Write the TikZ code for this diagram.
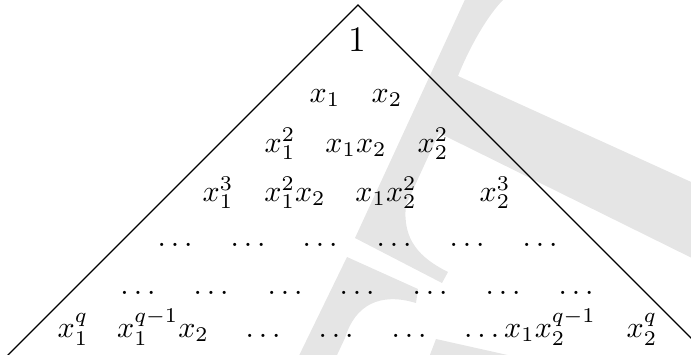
\documentclass[tikz,border=0pt]{standalone}
\definecolor{wm}{HTML}{E5E5E5}
\begin{document}
\begin{tikzpicture}[x=0.33333pt,y=-0.33333pt,
  term/.style={anchor=base,inner sep=0pt,font=\fontsize{10}{12}\selectfont},
  edge/.style={line width=0.4pt,black}]
\useasboundingbox (0,0) rectangle (691,354);
\begin{scope}
\clip (0,0) rectangle (691,354);
% watermark shapes
\fill[wm] (474,-20) -- (515,-12) -- (503,0) .. controls (488,15) and (470,46) .. (458,76)
  -- (700,186) -- (700,262) -- (439,133) -- (406,205)
  .. controls (402,240) and (420,258) .. (448,272) -- (442,283) -- (355,238) -- cycle;
\fill[wm] (347,257) -- (418,289) -- (416,303) .. controls (380,292) and (355,305) .. (345,338)
  -- (330,370) -- (292,370) -- cycle;
\fill[wm] (436,339) -- (530,360) -- (428,360) -- cycle;
% triangle
\coordinate (apex) at (358,5);
\coordinate (bl) at (-42,405);
\coordinate (br) at (758,405);
\draw[edge] (bl) -- (apex) -- (br);
\end{scope}
% row 1
\node[term,font=\fontsize{11.5}{14}\selectfont] (one) at (357,51.5) {$1$};
% row 2
\node[term] (a1) at (325,102) {$x_1$};
\node[term] (a2) at (387,102) {$x_2$};
% row 3
\node[term] (b1) at (280,152) {$x_1^2$};
\node[term] (b2) at (356,152) {$x_1x_2$};
\node[term] (b3) at (433,152) {$x_2^2$};
% row 4
\node[term] (c1) at (218,201) {$x_1^3$};
\node[term] (c2) at (295,201) {$x_1^2x_2$};
\node[term] (c3) at (386,201) {$x_1x_2^2$};
\node[term] (c4) at (495,201) {$x_2^3$};
% row 5
\node[term] (d1) at (175,246) {$\ldots$};
\node[term] (d2) at (248,246) {$\ldots$};
\node[term] (d3) at (320,246) {$\ldots$};
\node[term] (d4) at (394,246) {$\ldots$};
\node[term] (d5) at (467,246) {$\ldots$};
\node[term] (d6) at (540,246) {$\ldots$};
% row 6
\node[term] (e1) at (138,294) {$\ldots$};
\node[term] (e2) at (211,294) {$\ldots$};
\node[term] (e3) at (285,294) {$\ldots$};
\node[term] (e4) at (357,294) {$\ldots$};
\node[term] (e5) at (430,294) {$\ldots$};
\node[term] (e6) at (503,294) {$\ldots$};
\node[term] (e7) at (576,294) {$\ldots$};
% row 7
\node[term] (f1) at (73,337) {$x_1^q$};
\node[term] (f2) at (163,337) {$x_1^{q-1}x_2$};
\node[term] (f3) at (263,337) {$\ldots$};
\node[term] (f4) at (336,337) {$\ldots$};
\node[term] (f5) at (409,337) {$\ldots$};
\node[term] (f6) at (530,337) {$\ldots x_1x_2^{q-1}$};
\node[term] (f7) at (642,337) {$x_2^q$};
\end{tikzpicture}
\end{document}
